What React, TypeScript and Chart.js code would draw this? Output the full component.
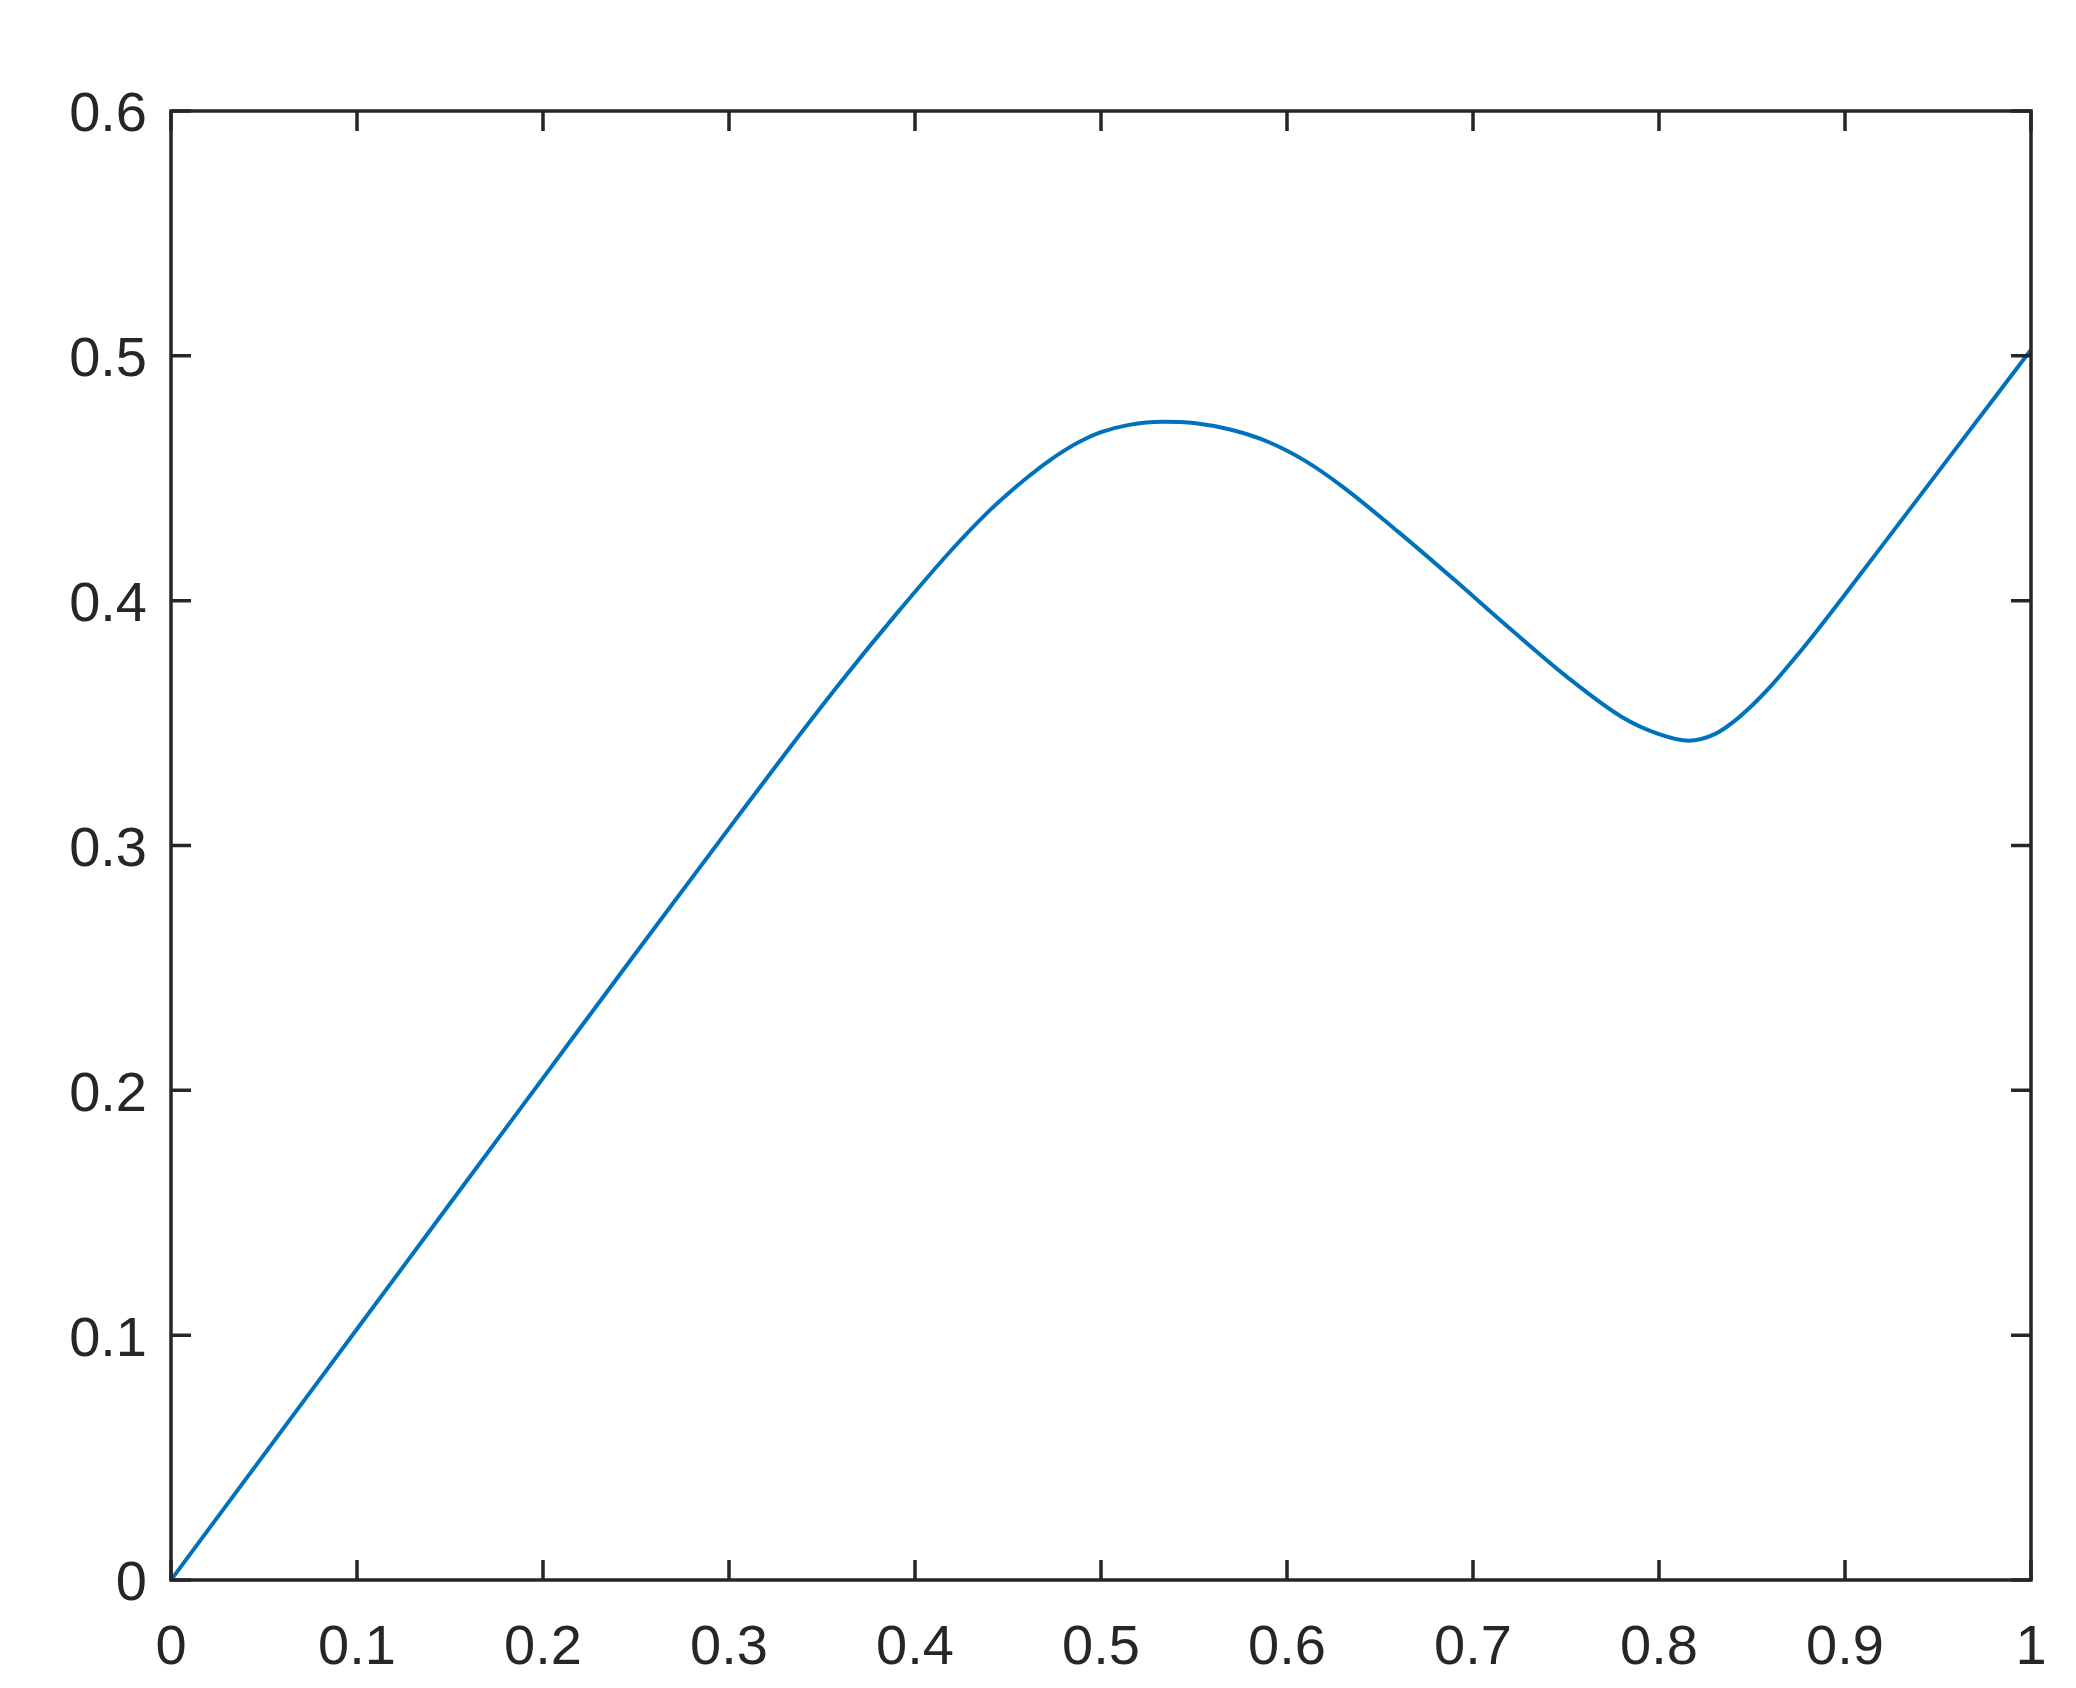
import React, { useEffect, useRef } from "react";
import { Chart, registerables } from "chart.js";

Chart.register(...registerables);

const xValues = [0, 0.05, 0.1, 0.15, 0.2, 0.25, 0.3, 0.33, 0.36, 0.39, 0.42, 0.44, 0.45, 0.46, 0.47, 0.48, 0.49, 0.5, 0.515, 0.533, 0.55, 0.57, 0.59, 0.61, 0.63, 0.66, 0.69, 0.72, 0.75, 0.78, 0.8, 0.816, 0.83, 0.84, 0.85, 0.86, 0.87, 0.88, 0.9, 0.93, 0.96, 1.0];
const yValues = [0, 0.0512, 0.1025, 0.1538, 0.205, 0.2562, 0.307, 0.3373, 0.3667, 0.3946, 0.421, 0.4368, 0.4437, 0.4501, 0.456, 0.4612, 0.4655, 0.4688, 0.4718, 0.4731, 0.4726, 0.4698, 0.4648, 0.457, 0.4465, 0.428, 0.4085, 0.3885, 0.3692, 0.3525, 0.3455, 0.3428, 0.3455, 0.3505, 0.3572, 0.365, 0.3738, 0.383, 0.4025, 0.4325, 0.4625, 0.5025];
const xTicks = [0, 0.1, 0.2, 0.3, 0.4, 0.5, 0.6, 0.7, 0.8, 0.9, 1];
const yTicks = [0, 0.1, 0.2, 0.3, 0.4, 0.5, 0.6];

const W = 2076;
const H = 1688;
const AXIS = "#262626";

const framePlugin = {
  id: "matlabFrame",
  afterDatasetsDraw(chart: any) {
    const { ctx, chartArea: a, scales } = chart;
    ctx.save();
    ctx.strokeStyle = AXIS;
    ctx.lineWidth = 3.5;
    ctx.lineCap = "butt";
    const tl = 20;
    ctx.beginPath();
    for (const v of xTicks) {
      const px = scales.x.getPixelForValue(v);
      ctx.moveTo(px, a.bottom);
      ctx.lineTo(px, a.bottom - tl);
      ctx.moveTo(px, a.top);
      ctx.lineTo(px, a.top + tl);
    }
    for (const v of yTicks) {
      const py = scales.y.getPixelForValue(v);
      ctx.moveTo(a.left, py);
      ctx.lineTo(a.left + tl, py);
      ctx.moveTo(a.right, py);
      ctx.lineTo(a.right - tl, py);
    }
    ctx.stroke();
    ctx.beginPath();
    ctx.rect(a.left, a.top, a.right - a.left, a.bottom - a.top);
    ctx.stroke();
    ctx.restore();
  },
};

export default function App() {
  const ref = useRef<HTMLCanvasElement | null>(null);
  useEffect(() => {
    document.body.style.margin = "0";
    const canvas = ref.current!;
    const data = xValues.map((x, i) => ({ x, y: yValues[i] }));
    const chart = new Chart(canvas, {
      type: "line",
      data: {
        datasets: [
          {
            data,
            borderColor: "#0072BD",
            borderWidth: 4,
            pointRadius: 0,
            fill: false,
            cubicInterpolationMode: "monotone",
          },
        ],
      },
      options: {
        animation: false,
        responsive: false,
        devicePixelRatio: 1,
        layout: { padding: { left: 0, top: 111, right: 45, bottom: 0 } },
        plugins: { legend: { display: false }, tooltip: { enabled: false } },
        scales: {
          x: {
            type: "linear",
            min: 0,
            max: 1,
            grid: { display: false },
            border: { display: false },
            afterBuildTicks: (s: any) => {
              s.ticks = xTicks.map((v) => ({ value: v }));
            },
            afterFit: (s: any) => {
              s.height = H - 1580;
            },
            ticks: {
              color: AXIS,
              padding: 27,
              maxRotation: 0,
              autoSkip: false,
              font: { family: "'Liberation Sans', Arial, sans-serif", size: 56 },
              callback: (v: any) => String(v),
            },
          },
          y: {
            type: "linear",
            min: 0,
            max: 0.6,
            grid: { display: false },
            border: { display: false },
            afterBuildTicks: (s: any) => {
              s.ticks = yTicks.map((v) => ({ value: v }));
            },
            afterFit: (s: any) => {
              s.width = 171;
            },
            ticks: {
              color: AXIS,
              padding: 16,
              labelOffset: 5,
              autoSkip: false,
              font: { family: "'Liberation Sans', Arial, sans-serif", size: 56 },
              callback: (v: any) => String(v),
            },
          },
        },
      },
      plugins: [framePlugin],
    } as any);
    return () => chart.destroy();
  }, []);
  return (
    <div style={{ position: "absolute", left: 0, top: 0, width: W, height: H, background: "#fff" }}>
      <canvas ref={ref} width={W} height={H} style={{ display: "block", width: W, height: H }} />
    </div>
  );
}
